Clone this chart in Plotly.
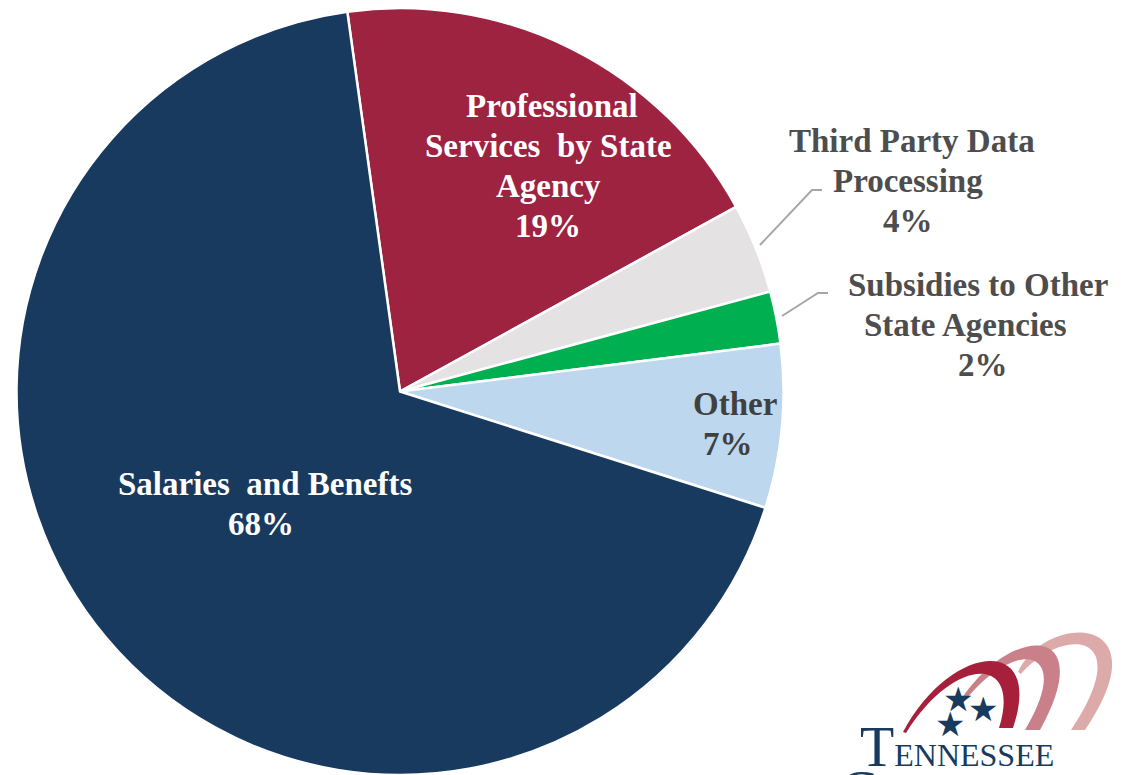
import plotly.graph_objects as go

# ---- data ----
labels = ["Professional Services by State Agency", "Third Party Data Processing",
          "Subsidies to Other State Agencies", "Other", "Salaries and Benefts"]
label_lines = [["Professional", "Services  by State", "Agency"],
               ["Third Party Data", "Processing"],
               ["Subsidies to Other", "State Agencies"],
               ["Other"],
               ["Salaries  and Benefts"]]
shares = [19.2, 3.8, 2.2, 6.9, 67.9]
colors = ["#9D2341", "#E4E2E2", "#00B050", "#BDD7EE", "#173A5E"]
text_colors = ["#FFFFFF", "#4D4D4D", "#4D4D4D", "#404040", "#FFFFFF"]
# per-label: x centre of each line and first baseline (screen pixels)
label_x = [[552, 548, 548, 548], [912, 908, 908], [978, 965, 983], [735, 728], [265, 261]]
label_y0 = [117, 152, 296, 415, 495]
LINE = 40

# screen pixel -> paper coords (page body has an 8px offset)
OFF = 8
W, H = 1131 - OFF, 775 - OFF
def px(x): return (x - OFF) / W
def py(y): return 1 - (y - OFF) / H

fig = go.Figure(go.Pie(
    labels=labels, values=shares, sort=False, direction="clockwise", rotation=-7.9,
    marker=dict(colors=colors, line=dict(color="white", width=2.5)),
    textinfo="none", hoverinfo="label+percent", showlegend=False,
    domain=dict(x=[px(16), px(784)], y=[0, 1]),
))

total = sum(shares)
FS = 33
annotations = []
for lines, v, c, xs, y0 in zip(label_lines, shares, text_colors, label_x, label_y0):
    all_lines = lines + [f"{round(v / total * 100)}%"]
    for i, (t, x) in enumerate(zip(all_lines, xs)):
        base = y0 + i * LINE
        annotations.append(dict(
            x=px(x), y=py(base - 11), xref="paper", yref="paper", showarrow=False,
            text=t, font=dict(family="Liberation Serif", size=FS, color=c, weight="bold"),
            xanchor="center", yanchor="middle",
        ))

# leader lines
shapes = []
for pts in [[(760, 245), (812, 190), (822, 190)], [(782, 316), (818, 293), (828, 293)]]:
    path = "M " + " L ".join(f"{px(a)},{py(b)}" for a, b in pts)
    shapes.append(dict(type="path", path=path, xref="paper", yref="paper",
                       line=dict(color="#A6A6A6", width=2)))

# logo arcs (filled crescents)
def P(x, y): return f"{px(x)},{py(y)}"
crescents = [
    ([(1018, 672), (1045, 612), (1165, 612), (1085, 730)],
     [(1071, 730), (1138, 630), (1062, 626), (1021, 674)], "#DDAAAA"),
    ([(958, 704), (1010, 622), (1100, 622), (1040, 730)],
     [(1025, 730), (1077, 643), (1010, 638), (961, 706)], "#C98088"),
    ([(903, 732), (950, 643), (1045, 633), (1013, 728)],
     [(999, 728), (1022, 655), (955, 655), (906, 733)], "#A6203C"),
]
for outer, inner, col in crescents:
    path = (f"M {P(*outer[0])} C {P(*outer[1])} {P(*outer[2])} {P(*outer[3])} "
            f"L {P(*inner[0])} C {P(*inner[1])} {P(*inner[2])} {P(*inner[3])} Z")
    shapes.append(dict(type="path", path=path, xref="paper", yref="paper",
                       fillcolor=col, line=dict(width=0), layer="above"))

for (x, y) in [(958, 699), (983, 709), (950, 724)]:
    annotations.append(dict(x=px(x), y=py(y), xref="paper", yref="paper", showarrow=False,
                            text="★", font=dict(size=34, color="#173A5E", family="DejaVu Sans"),
                            xanchor="center", yanchor="middle"))

annotations.append(dict(x=px(858), y=py(747), xref="paper", yref="paper", showarrow=False,
                        text="<span style='font-size:56px'>T</span>ENNESSEE",
                        font=dict(size=32, color="#173A5E", family="Liberation Serif"),
                        xanchor="left", yanchor="middle"))
annotations.append(dict(x=px(838), y=py(758), xref="paper", yref="paper", showarrow=False,
                        text="<span style='font-size:56px'>C</span>OMPTROLLER",
                        font=dict(size=32, color="#173A5E", family="Liberation Serif"),
                        xanchor="left", yanchor="top"))

fig.update_layout(
    width=W, height=H, margin=dict(l=0, r=0, t=0, b=0),
    paper_bgcolor="white", plot_bgcolor="white",
    annotations=annotations, shapes=shapes,
)
fig.write_html("out.html")
